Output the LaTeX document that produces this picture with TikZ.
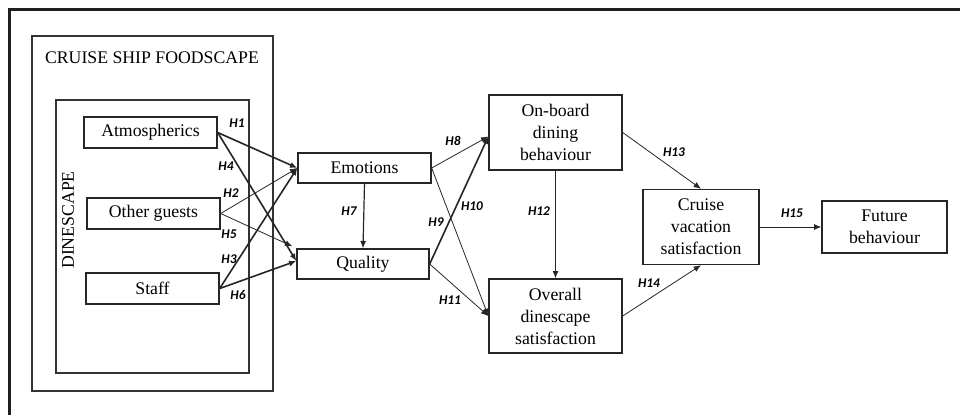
\documentclass[tikz,border=0pt]{standalone}
\usepackage{fontspec}
\setmainfont{Liberation Serif}
\newfontfamily\labfont{Carlito}
\usetikzlibrary{arrows.meta,calc}
\tikzset{
  box/.style={draw=black!85, line width=1pt, fill=white, align=center, inner sep=1pt,
    font=\fontsize{13.3}{16.5}\selectfont},
  hyp/.style={font=\labfont\bfseries\itshape\fontsize{10}{12}\selectfont, inner sep=0pt},
  arr/.style={-{Latex[length=5.5pt,width=4.5pt]}, draw=black!85},
  thk/.style={arr, line width=1.2pt},
  thn/.style={arr, line width=0.6pt},
  mid/.style={arr, line width=0.9pt},
}
\begin{document}
\begin{tikzpicture}[x=0.75pt,y=-0.75pt]
\useasboundingbox (0,0) rectangle (960,415);
% outer frame (top and left only visible)
\draw[line width=2.3pt, black!88] (9.5,415) -- (9.5,9.5) -- (960,9.5);
% foodscape frames
\draw[line width=1pt, black!80] (32,36) rectangle (273,391);
\node[font=\fontsize{13.3}{16}\selectfont] (food) at (152,58) {CRUISE SHIP FOODSCAPE};
\draw[line width=1pt, black!80] (56,100) rectangle (249,373);
\node[rotate=90, font=\fontsize{13.3}{16}\selectfont] (dine) at (68,220) {DINESCAPE};
% nodes
\node[box, minimum width=99.75pt, minimum height=23.25pt] (atm) at (150.5,132.5) {Atmospherics};
\node[box, minimum width=99.75pt, minimum height=23.25pt] (oth) at (153.5,213.5) {Other guests};
\node[box, minimum width=99.75pt, minimum height=23.25pt] (stf) at (152.5,288.5) {Staff};
\node[box, minimum width=99.75pt, minimum height=22.5pt] (emo) at (364.5,168) {Emotions};
\node[box, minimum width=99pt, minimum height=22.5pt] (qua) at (363,264) {Quality};
\node[box, minimum width=99.75pt, minimum height=56.25pt] (onb) at (555.5,132.5) {On-board\\dining\\behaviour};
\node[box, minimum width=99.75pt, minimum height=55.5pt] (ovr) at (555.5,316) {Overall\\dinescape\\satisfaction};
\node[box, minimum width=87pt, minimum height=56.25pt] (cru) at (701,227) {Cruise\\vacation\\satisfaction};
\node[box, minimum width=93.75pt, minimum height=39pt] (fut) at (884.5,227) {Future\\behaviour};
\coordinate (onbin) at ($(onb.west)+(0,4)$);
\coordinate (quain) at ($(qua.west)+(0,-3)$);
\coordinate (quatop) at ($(qua.north west)+(-4,-2)$);
% arrows
\draw[thk] (atm.east) -- (emo.west);
\draw[thk] (atm.east) -- (quain);
\draw[thn] (oth.east) -- (emo.west);
\draw[thn] (oth.east) -- (quatop);
\draw[thk] (stf.east) -- (emo.west);
\draw[thk] (stf.east) -- (quain);
\draw[mid] (emo.south) -- (qua.north);
\draw[thn] (emo.east) -- (onbin);
\draw[thn] (emo.east) -- (ovr.west);
\draw[thk] (qua.east) -- (onbin);
\draw[thn] (qua.east) -- (ovr.west);
\draw[mid] (onb.south) -- (ovr.north);
\draw[thn] (onb.east) -- (cru.north);
\draw[thn] (ovr.east) -- (cru.south);
\draw[thn] (cru.east) -- (fut.west);
% labels
\node[hyp] (h1) at (237,123) {H1};
\node[hyp] (h4) at (226,166) {H4};
\node[hyp] (h2) at (231,193) {H2};
\node[hyp] (h5) at (229,234) {H5};
\node[hyp] (h3) at (229,259) {H3};
\node[hyp] (h6) at (238,295) {H6};
\node[hyp] (h7) at (349,211) {H7};
\node[hyp] (h8) at (453,141) {H8};
\node[hyp] (h10) at (472,206) {H10};
\node[hyp] (h9) at (436,222) {H9};
\node[hyp] (h11) at (450,300) {H11};
\node[hyp] (h12) at (539,211) {H12};
\node[hyp] (h13) at (674,152) {H13};
\node[hyp] (h14) at (649,283) {H14};
\node[hyp] (h15) at (792,213) {H15};
\end{tikzpicture}
\end{document}
